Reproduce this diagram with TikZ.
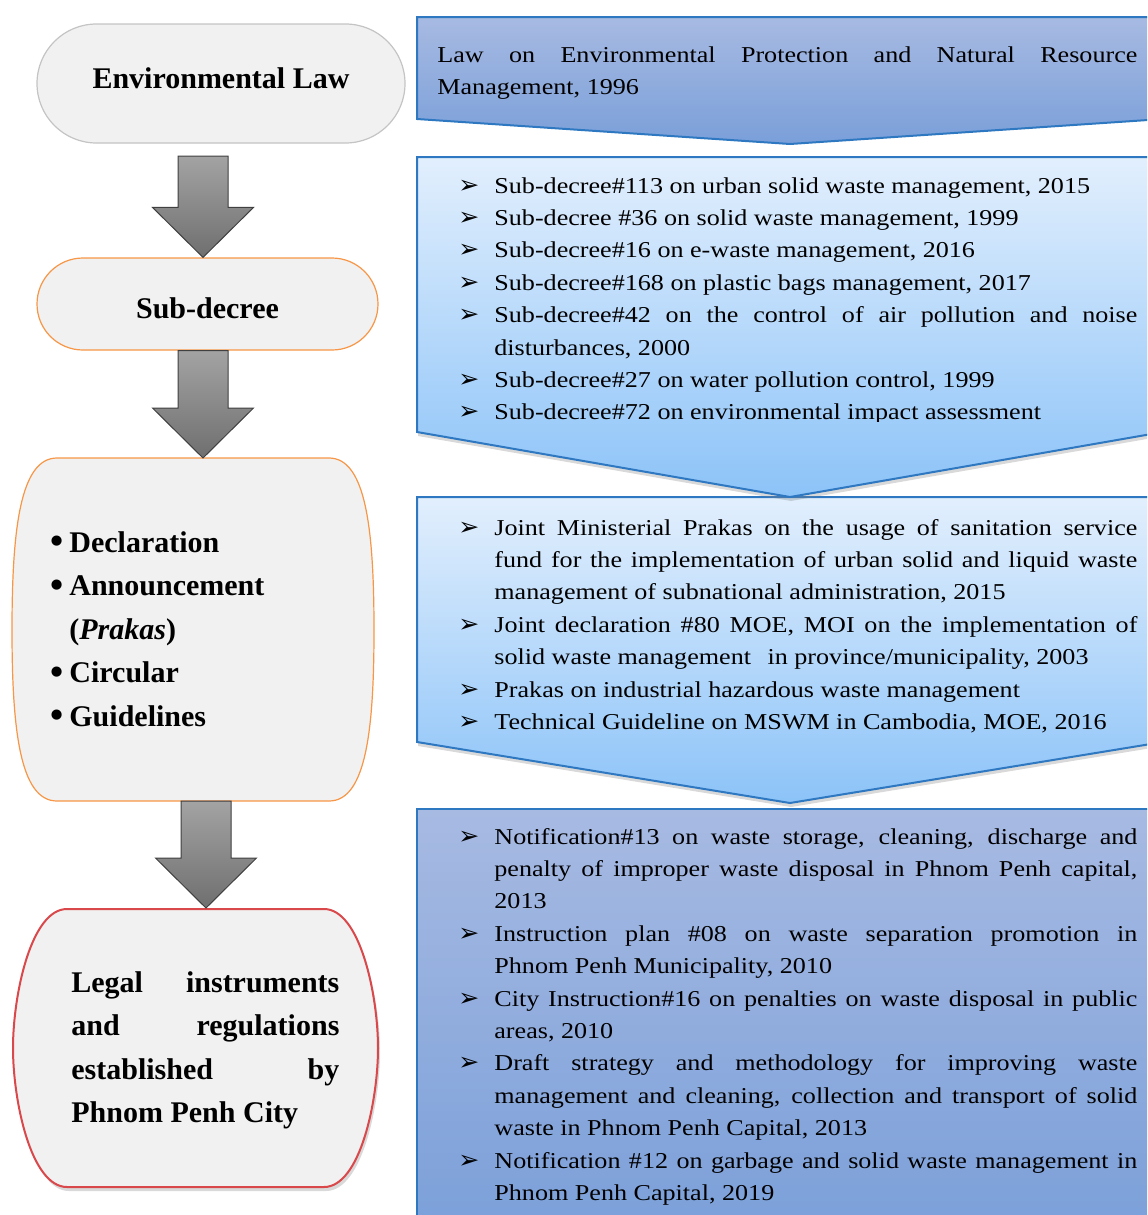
\documentclass[tikz,border=0pt]{standalone}
\usepackage{graphicx}
\usepackage{fontspec}
\setmainfont{Liberation Serif}
\newfontfamily\listfont{Liberation Serif}[FakeStretch=1.15]
\newfontfamily\symfont{DejaVu Sans}
\usetikzlibrary{shapes.misc,calc,shadows}

\definecolor{boxgray}{HTML}{F1F1F1}
\definecolor{lawedge}{HTML}{C4C4C4}
\definecolor{orangeedge}{HTML}{F79646}
\definecolor{rededge}{HTML}{D9484A}
\definecolor{blueedge}{HTML}{2E78C2}
\definecolor{darktop}{HTML}{A7BAE2}
\definecolor{darkbot}{HTML}{7A9FD9}
\definecolor{lighttop}{HTML}{E2EFFD}
\definecolor{lightbot}{HTML}{8CC3F8}
\definecolor{arrowtop}{HTML}{A3A3A3}
\definecolor{arrowbot}{HTML}{6F6F6F}

\tolerance=10000
\hbadness=10000
\hyphenpenalty=10000
\exhyphenpenalty=10000

\tikzset{
  levelbox/.style={rounded rectangle, fill=boxgray, line width=0.6pt, inner sep=0pt},
  boldtext/.style={font=\fontsize{15pt}{21.75pt}\selectfont\bfseries, inner sep=0pt},
  listtext/.style={font=\listfont\fontsize{11.35pt}{16.2pt}\selectfont, inner sep=0pt, anchor=base west},
  darkchevron/.style={draw=blueedge, line width=1pt, top color=darktop, bottom color=darkbot},
  lightchevron/.style={draw=blueedge, line width=1pt, top color=lighttop, bottom color=lightbot,
    drop shadow={opacity=0.3, shadow xshift=0.5pt, shadow yshift=-2pt}},
  arrowblock/.style={draw=black!75, line width=0.5pt, top color=arrowtop, bottom color=arrowbot},
}

% one item of a list on the right
\newcommand{\lawitem}[1]{\par\hangindent=18pt\hangafter=1\noindent
  \makebox[18pt][l]{\smash{\symfont\fontsize{12.5pt}{12.5pt}\selectfont ➢}}#1}
% bold bullet on the left
\newcommand{\dotitem}{\makebox[9.5pt][l]{\raisebox{-0.8pt}{\scalebox{1.25}{\textbullet}}}}
% block arrow from the top of its shaft down to its tip
\newcommand{\blockarrow}[2]{%
  \draw[arrowblock] ($(#1)+(-25,0)$) -- ($(#1)+(25,0)$) -- ($(#2)+(25,-50)$) -- ($(#2)+(50.5,-50)$)
    -- (#2) -- ($(#2)+(-50.5,-50)$) -- ($(#2)+(-25,-50)$) -- cycle;}
% chevron box on the right: top, side corners, tip
\newcommand{\chevron}[4]{%
  \draw[#1] (417,#2) -- (1163,#2) -- (1163,#3) -- (790,#4) -- (417,#3) -- cycle;}

\begin{document}
\begin{tikzpicture}[x=0.5pt,y=-0.5pt]
  \useasboundingbox (0,0) rectangle (1147,1215);
  \clip (0,0) rectangle (1147,1215);

  % right column
  \draw[darkchevron] (417,1240) -- (417,809) -- (1163,809) -- (1163,1240);
  \chevron{lightchevron}{497}{742}{803}
  \chevron{lightchevron}{157}{432}{497}
  \chevron{darkchevron}{17}{119}{144}

  \node[listtext] (lawtext) at (437,62) {\parbox[t]{350pt}{Law on Environmental Protection and Natural Resource\linebreak Management, 1996}};

  \begin{scope}
    \clip (417,157) rectangle (1147,421);
    \node[listtext] (subtext) at (458,193) {\parbox[t]{339.5pt}{%
      \lawitem{Sub-decree\#113 on urban solid waste management, 2015}
      \lawitem{Sub-decree \#36 on solid waste management, 1999}
      \lawitem{Sub-decree\#16 on e-waste management, 2016}
      \lawitem{Sub-decree\#168 on plastic bags management, 2017}
      \lawitem{Sub-decree\#42 on the control of air pollution and noise\linebreak disturbances, 2000}
      \lawitem{Sub-decree\#27 on water pollution control, 1999}
      \lawitem{Sub-decree\#72 on environmental impact assessment}}};
  \end{scope}

  \node[listtext] (prakastext) at (458,535) {\parbox[t]{339.5pt}{%
    \lawitem{Joint Ministerial Prakas on the usage of sanitation service\linebreak fund for the implementation of urban solid and liquid waste\linebreak management of subnational administration, 2015}
    \lawitem{Joint declaration \#80 MOE, MOI on the implementation of\linebreak solid waste management\hspace{5pt} in province/municipality, 2003}
    \lawitem{Prakas on industrial hazardous waste management}
    \lawitem{Technical Guideline on MSWM in Cambodia, MOE, 2016}}};

  \node[listtext] (citytext) at (458,844) {\parbox[t]{339.5pt}{%
    \lawitem{Notification\#13 on waste storage, cleaning, discharge and\linebreak penalty of improper waste disposal in Phnom Penh capital,\linebreak 2013}
    \lawitem{Instruction plan \#08 on waste separation promotion in\linebreak Phnom Penh Municipality, 2010}
    \lawitem{City Instruction\#16 on penalties on waste disposal in public\linebreak areas, 2010}
    \lawitem{Draft strategy and methodology for improving waste\linebreak management and cleaning, collection and transport of solid\linebreak waste in Phnom Penh Capital, 2013}
    \lawitem{Notification \#12 on garbage and solid waste management in\linebreak Phnom Penh Capital, 2019}}};

  % left column
  \node[levelbox, draw=lawedge, minimum width=184pt, minimum height=59.5pt] (envlaw) at (221,83.5) {};
  \node[boldtext, anchor=base] (envlawtext) at (221,88) {Environmental Law};

  \node[levelbox, draw=orangeedge, minimum width=170.5pt, minimum height=46pt] (subdec) at (207.5,304) {};
  \node[boldtext, anchor=base] (subdectext) at (207.5,318) {Sub-decree};

  \draw[orangeedge, fill=boxgray, line width=0.6pt] (57,458) -- (329,458)
    .. controls (366,458) and (374,530) .. (374,630)
    .. controls (374,730) and (366,801) .. (329,801) -- (57,801)
    .. controls (20,801) and (12,730) .. (12,630)
    .. controls (12,530) and (20,458) .. (57,458) -- cycle;
  \coordinate (decltop) at (203,458);
  \coordinate (declbot) at (206,801);
  \node[boldtext, anchor=base west] (decltext) at (50,552) {\parbox[t]{160pt}{\raggedright
    \dotitem Declaration\\
    \dotitem Announcement\\
    \hspace*{9.5pt}(\textit{Prakas})\\
    \dotitem Circular\\
    \dotitem Guidelines}};

  \draw[rededge, fill=boxgray, line width=1pt, drop shadow={opacity=0.3, shadow xshift=1pt, shadow yshift=-2pt}]
    (67,909) -- (324,909)
    .. controls (360,909) and (378,995) .. (378,1048)
    .. controls (378,1101) and (360,1187) .. (324,1187) -- (67,1187)
    .. controls (31,1187) and (13,1101) .. (13,1048)
    .. controls (13,995) and (31,909) .. (67,909) -- cycle;
  \coordinate (legaltop) at (206,908);
  \node[boldtext, anchor=base west] (legaltext) at (71,992) {\parbox[t]{134pt}{Legal instruments\linebreak and regulations\linebreak established by\linebreak Phnom Penh City}};

  % arrows between the levels
  \coordinate (arr1) at (203,156);
  \coordinate (tip1) at (arr1 |- subdec.north);
  \coordinate (arr2) at (arr1 |- subdec.south);
  \blockarrow{arr1}{tip1}
  \blockarrow{arr2}{decltop}
  \blockarrow{declbot}{legaltop}
\end{tikzpicture}
\end{document}
